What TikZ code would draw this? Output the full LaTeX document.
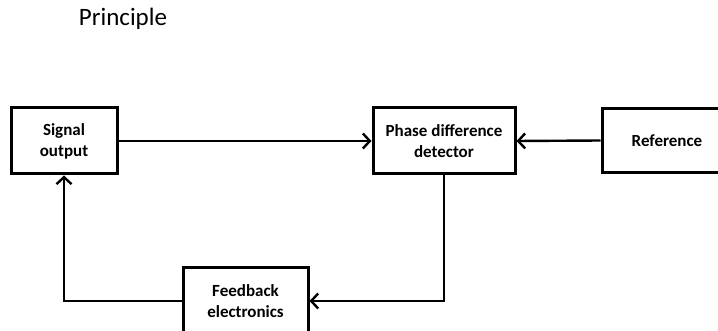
\documentclass[tikz,border=0pt]{standalone}
\usepackage{fontspec}
\setmainfont{Carlito}
\usetikzlibrary{arrows.meta}

\tikzset{
	block/.style={draw=black, line width=3pt, fill=white, align=center,
		font=\bfseries\fontsize{17}{21}\selectfont, inner sep=0pt},
	flow/.style={draw=black, line width=2.4pt,
		-{Straight Barb[length=7pt, width=15pt, line width=2.4pt]}},
}

\begin{document}
\begin{tikzpicture}[x=1pt, y=-1pt]
	\useasboundingbox (0,0) rectangle (718,331);

	% heading
	\node[font=\fontsize{25}{30}\selectfont] (title) at (123,19) {Principle};

	% blocks of the loop
	\node[block, minimum width=106pt, minimum height=66pt] (sig) at (64,141) {Signal\\output};
	\node[block, minimum width=142pt, minimum height=66pt] (pdd) at (444,141) {Phase difference\\detector};
	\node[block, minimum width=130pt, minimum height=64pt] (ref) at (667,140.5) {Reference};
	\node[block, minimum width=125pt, minimum height=66pt] (fb) at (245.5,301) {Feedback\\electronics};

	% connections
	\draw[flow] (sig.east) -- (pdd.west);
	\draw[flow] (ref.west) -- (pdd.east);
	\draw[flow] (pdd.south) |- (fb.east);
	\draw[flow] (fb.west) -| (sig.south);
\end{tikzpicture}
\end{document}
